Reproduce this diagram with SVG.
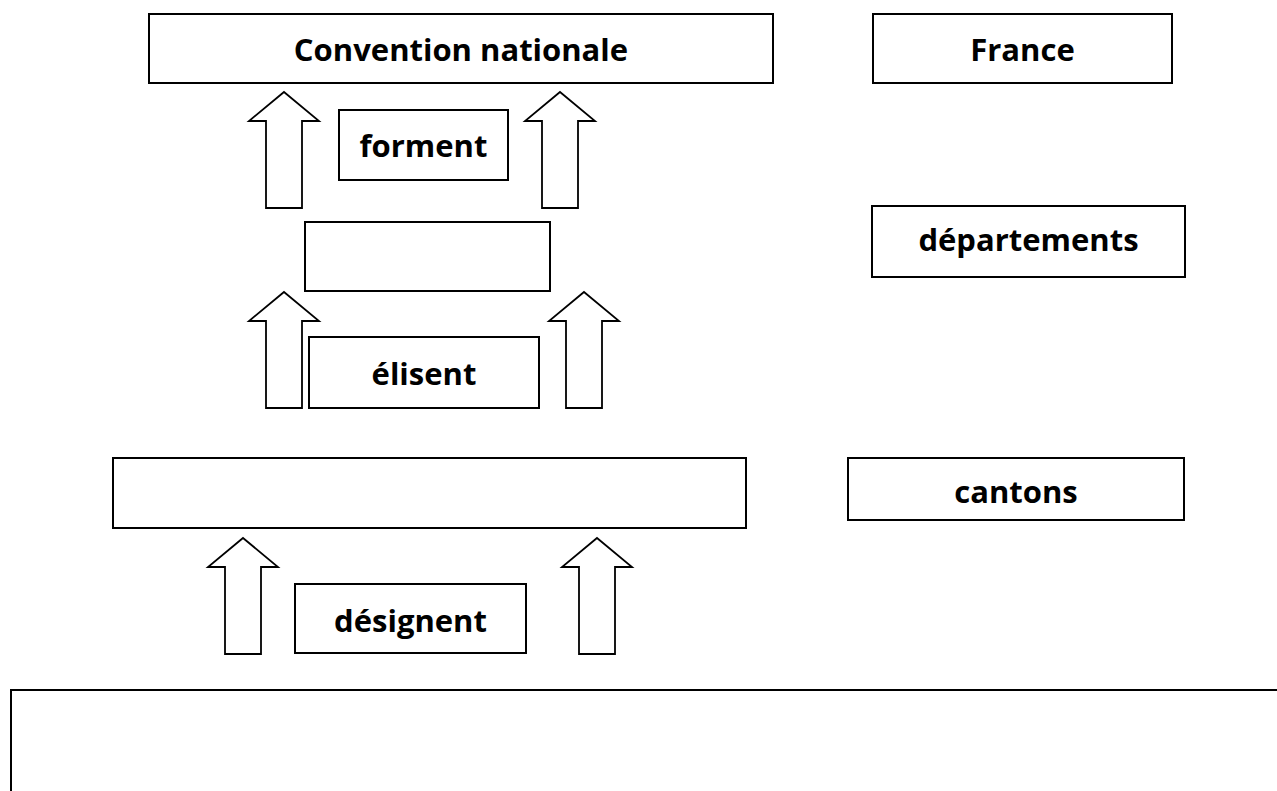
<svg xmlns="http://www.w3.org/2000/svg" width="1277" height="791" viewBox="0 0 1277 791">
<style>
.box{fill:#fff;stroke:#000;stroke-width:2}
.arrow{fill:#fff;stroke:#000;stroke-width:1.8;stroke-linejoin:miter}
.lbl{font-family:"Open Sans","Liberation Sans",sans-serif;font-weight:bold;font-size:31px;fill:#000;text-anchor:middle}
</style>
<defs>
<path id="up" d="M0,0 L35,29 L18,29 L18,116 L-18,116 L-18,29 L-35,29 Z"/>
</defs>
<rect x="0" y="0" width="1277" height="791" fill="#fff"/>
<g id="connectors">
<use href="#up" class="arrow" x="284" y="92"/>
<use href="#up" class="arrow" x="560" y="92"/>
<use href="#up" class="arrow" x="284" y="292"/>
<use href="#up" class="arrow" x="584" y="292"/>
<use href="#up" class="arrow" x="243" y="538"/>
<use href="#up" class="arrow" x="597" y="538"/>
</g>
<g id="convention"><rect class="box" x="149" y="14" width="624" height="69"/><text class="lbl" x="461" y="61">Convention nationale</text></g>
<g id="france"><rect class="box" x="873" y="14" width="299" height="69"/><text class="lbl" x="1022.5" y="61">France</text></g>
<g id="forment"><rect class="box" x="339" y="110" width="169" height="70"/><text class="lbl" x="423.5" y="157">forment</text></g>
<g id="departements"><rect class="box" x="872" y="206" width="313" height="71"/><text class="lbl" x="1028.5" y="251">départements</text></g>
<g id="empty-middle"><rect class="box" x="305" y="222" width="245" height="69"/></g>
<g id="elisent"><rect class="box" x="309" y="337" width="230" height="71"/><text class="lbl" x="424" y="385">élisent</text></g>
<g id="empty-cantons"><rect class="box" x="113" y="458" width="633" height="70"/></g>
<g id="cantons"><rect class="box" x="848" y="458" width="336" height="62"/><text class="lbl" x="1016" y="503">cantons</text></g>
<g id="designent"><rect class="box" x="295" y="584" width="231" height="69"/><text class="lbl" x="410.5" y="632">désignent</text></g>
<g id="bottom"><rect class="box" x="11" y="690" width="1290" height="130" stroke-width="2.4"/></g>
</svg>
